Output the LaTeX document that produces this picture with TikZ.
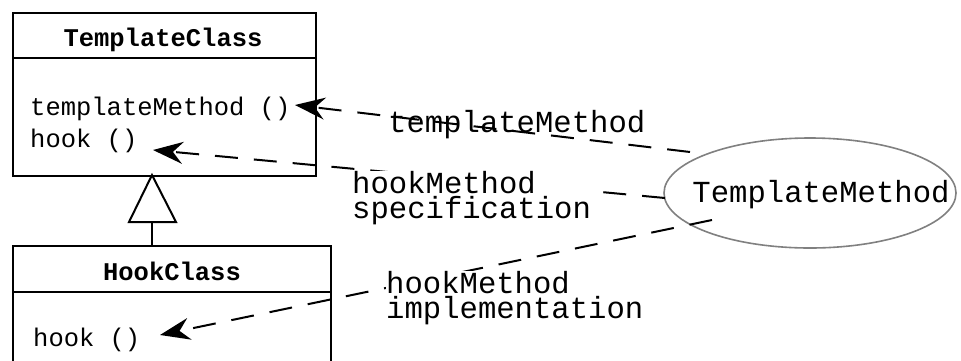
\documentclass[tikz,border=0pt]{standalone}
\usepackage{fontspec}
\setmonofont{Liberation Mono}
\usetikzlibrary{arrows.meta,shapes.geometric,calc}
\tikzset{
  classbox/.style={draw, line width=2pt, rectangle, anchor=north west, inner sep=0pt},
  divider/.style={line width=2pt},
  member/.style={anchor=base west, inner sep=0pt, font=\ttfamily\fontsize{25.5}{28}\selectfont},
  title/.style={anchor=base, inner sep=0pt, font=\ttfamily\bfseries\fontsize{25.5}{28}\selectfont},
  lbl/.style={anchor=base west, inner sep=0pt, align=left, font=\ttfamily\fontsize{30.6}{25}\selectfont},
  usage/.style={line width=2pt, dash pattern=on 23pt off 16pt,
    -{Stealth[length=30pt,width=22pt,inset=10pt]}},
  collab/.style={ellipse, draw=gray, line width=1.6pt, minimum width=292pt, minimum height=110pt,
    inner sep=0pt},
}
\begin{document}
\begin{tikzpicture}[x=1pt,y=-1pt]
\useasboundingbox (0,0) rectangle (961,360);

% TemplateClass
\node[classbox, minimum width=303pt, minimum height=163pt] (tc) at (12,12) {};
\draw[divider] (12,58) -- (315,58);
\node[title] (tcname) at (163,46) {TemplateClass};
\node[member] (tctm) at (30,115) {templateMethod ()};
\node[member] (tchook) at (30,147) {hook ()};

% HookClass
\node[classbox, minimum width=318pt, minimum height=140pt] (hc) at (12,245) {};
\draw[divider] (12,292) -- (330,292);
\node[title] (hcname) at (172,280) {HookClass};
\node[member] (hchook) at (33,346) {hook ()};

% generalization
\coordinate (apex) at (152,175);
\coordinate (bl) at (129,222);
\coordinate (br) at (176,222);
\coordinate (stem) at (152,222);
\draw[line width=2pt, fill=white] (apex) -- (br) -- (bl) -- cycle;
\draw[line width=2pt] (stem) -- (152,245);

% collaboration
\node[collab] (tmpl) at (810,193) {};
\node[anchor=base, inner sep=0pt, font=\ttfamily\fontsize{30.6}{34}\selectfont] (tmplname) at (821,202) {TemplateMethod};

\coordinate (s1) at (690,152);
\coordinate (s2) at (665,198);
\coordinate (s3) at (712,220);
\coordinate (e1) at (295,105);
\coordinate (e2) at (153,150);
\coordinate (e3) at (160,335);
\draw[usage] (s1) -- (e1);
\draw[usage] (s2) -- (e2);
\draw[usage] (s3) -- (e3);

% role labels; the two lower ones mask their connectors
\node[lbl] (l1) at (388,132) {templateMethod};
\node[lbl, fill=white] (l2) at (352,218) {hookMethod\\specification};
\node[lbl, fill=white] (l3) at (386,318) {hookMethod\\implementation};
\end{tikzpicture}
\end{document}
